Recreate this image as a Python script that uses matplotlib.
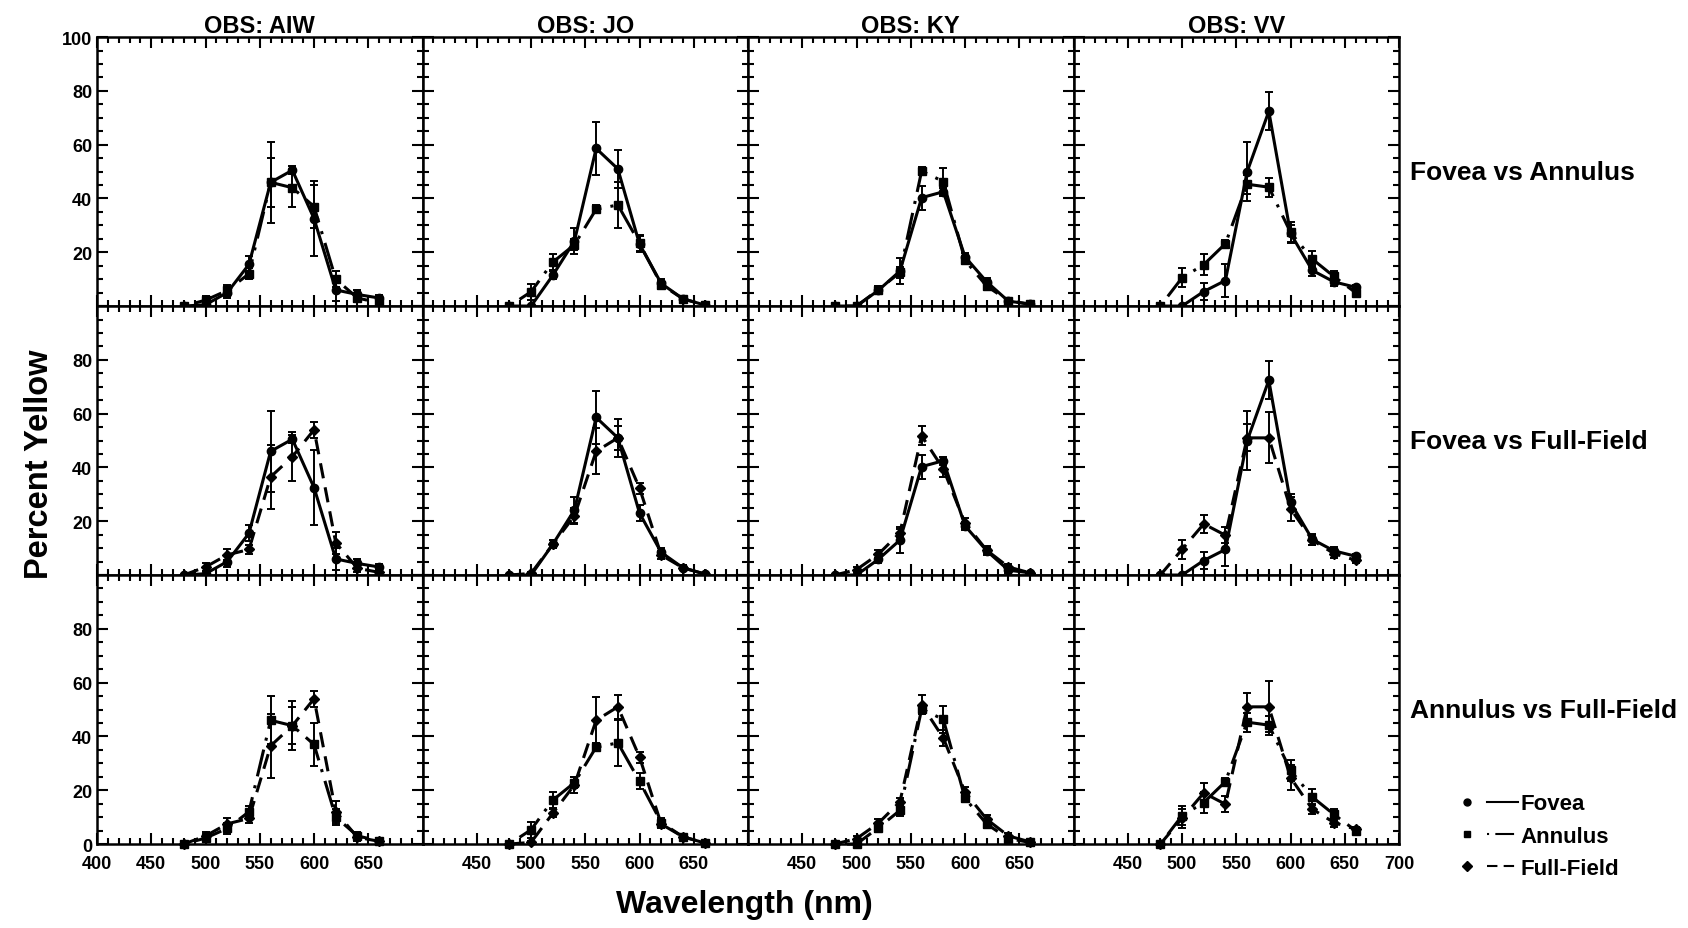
import numpy as np
import matplotlib
matplotlib.use("Agg")
import matplotlib.pyplot as plt
from matplotlib.lines import Line2D
from matplotlib.legend_handler import HandlerTuple

plt.rcParams['font.family'] = ['Liberation Sans', 'DejaVu Sans']
plt.rcParams['font.weight'] = 'bold'

# wavelengths (nm)
wl = [480, 500, 520, 540, 560, 580, 600, 620, 640, 660]

observers = ['AIW', 'JO', 'KY', 'VV']
row_names = ['Fovea vs Annulus', 'Fovea vs Full-Field', 'Annulus vs Full-Field']

# percent yellow
fovea_aiw = [0, 0.5, 5, 15.5, 46, 50.5, 32.5, 6, 4.3, 3]
fovea_aiw_err = [0, 1, 2, 3, 15, 1.5, 14, 4, 1.5, 1]
annulus_aiw = [0, 2.2, 5.8, 12, 46, 44, 37, 10, 3, 1.2]
annulus_aiw_err = [0, 1.5, 2, 2, 9, 7, 8, 3, 1.5, 1]
full_aiw = [0, 3, 7.5, 9.5, 36.5, 44, 54, 12, 2.5, 1]
full_aiw_err = [0, 1.5, 2, 1.5, 12, 9, 3, 4, 1.5, 1]

fovea_jo = [0, 0, 11.4, 24.2, 58.6, 51, 23, 8.4, 2.7, 0.4]
fovea_jo_err = [0, 0, 1.5, 5, 10, 7, 3, 1.5, 1, 0.5]
annulus_jo = [0, 5.3, 16.3, 22.8, 36, 37.6, 23.3, 8, 2.7, 0.4]
annulus_jo_err = [0, 3, 3, 2, 1.5, 8.5, 3, 1.5, 1, 0.5]
full_jo = [0, 0.6, 11.4, 22, 46, 51, 32.3, 7.4, 2.7, 0.4]
full_jo_err = [0, 0.5, 1.5, 3, 8.5, 4.5, 2, 1.5, 1, 0.5]

fovea_ky = [0, 0, 5.8, 13, 40.3, 42.5, 18.3, 9, 1.8, 0.8]
fovea_ky_err = [0, 0, 1.5, 4.8, 4.5, 1.5, 1.5, 1.5, 1, 0.5]
annulus_ky = [0, 0, 6, 12.5, 50.2, 46.3, 17, 7.4, 2, 0.6]
annulus_ky_err = [0, 0, 1.5, 2, 1.5, 5, 1.5, 1.5, 1, 0.5]
full_ky = [0, 2, 7.7, 15.7, 51.8, 39.4, 19.3, 9.2, 3, 0.8]
full_ky_err = [0, 1, 1.5, 1.5, 3.5, 3, 2, 1.5, 1, 0.5]

fovea_vv = [0, 0, 5.4, 9.5, 49.9, 72.4, 27, 13.3, 9, 7]
fovea_vv_err = [0, 0, 3, 6, 11, 7, 3, 2, 1.5, 1]
annulus_vv = [0, 10.5, 15.4, 23.2, 45.3, 44.2, 27.4, 17.5, 11, 5]
annulus_vv_err = [0, 3.5, 4, 1.5, 3.5, 3.5, 4, 3, 2, 1]
full_vv = [0, 9.5, 19, 14.8, 51, 51, 24.7, 13, 8, 5.5]
full_vv_err = [0, 3.5, 3.5, 3, 5, 9.5, 4.5, 2, 1.5, 1]

fovea = [(fovea_aiw, fovea_aiw_err), (fovea_jo, fovea_jo_err),
         (fovea_ky, fovea_ky_err), (fovea_vv, fovea_vv_err)]
annulus = [(annulus_aiw, annulus_aiw_err), (annulus_jo, annulus_jo_err),
           (annulus_ky, annulus_ky_err), (annulus_vv, annulus_vv_err)]
full = [(full_aiw, full_aiw_err), (full_jo, full_jo_err),
        (full_ky, full_ky_err), (full_vv, full_vv_err)]

# style per condition
sty_fovea = dict(marker='o', ls='-', ms=6)
sty_annulus = dict(marker='s', ls=(0, (1, 3, 9, 3)), ms=6)
sty_full = dict(marker='D', ls=(0, (5, 3)), ms=5)

pairs = [(fovea, sty_fovea, annulus, sty_annulus),
         (fovea, sty_fovea, full, sty_full),
         (annulus, sty_annulus, full, sty_full)]

fig, axes = plt.subplots(3, 4, figsize=(16.88, 9.29), dpi=100)
fig.subplots_adjust(left=0.0575, right=0.8288, top=0.959, bottom=0.0904, wspace=0, hspace=0)


def draw(ax, data, sty):
    m, e = data
    ax.errorbar(wl, m, yerr=e, color='black', lw=2.2, elinewidth=1.4,
                capsize=3, capthick=1.4, clip_on=False, dash_capstyle='butt',
                **sty)


for r in range(3):
    a, sa, b, sb = pairs[r]
    for c in range(4):
        ax = axes[r, c]
        draw(ax, b[c], sb)
        draw(ax, a[c], sa)
        ax.set_xlim(400, 700)
        ax.set_ylim(0, 100)
        ax.set_xticks(np.arange(400, 701, 50))
        ax.set_xticks(np.arange(400, 701, 10), minor=True)
        ax.set_yticks(np.arange(0, 101, 20))
        ax.set_yticks(np.arange(0, 101, 5), minor=True)
        ax.tick_params(which='both', direction='in', top=True, right=True, width=1.5,
                       labelsize=13)
        ax.tick_params(which='major', length=8)
        ax.tick_params(which='minor', length=4)
        ax.tick_params(axis='x', which='major', pad=8)
        for s in ax.spines.values():
            s.set_linewidth(1.8)
        if c == 0:
            ylabs = ['' if (v == 0 and r < 2) or (v == 100 and r > 0) else str(v)
                     for v in range(0, 101, 20)]
            ax.set_yticklabels(ylabs, fontweight='bold')
        else:
            ax.tick_params(labelleft=False)
        if r == 2:
            xlabs = []
            for v in range(400, 701, 50):
                if (v == 400 and c != 0) or (v == 700 and c != 3):
                    xlabs.append('')
                else:
                    xlabs.append(str(v))
            ax.set_xticklabels(xlabs, fontweight='bold')
        else:
            ax.tick_params(labelbottom=False)
        if r == 0:
            ax.set_title('OBS: ' + observers[c], fontsize=17, fontweight='bold', pad=4)
        if c == 3:
            ax.text(1.035, 0.5, row_names[r], transform=ax.transAxes, fontsize=19,
                    fontweight='bold', va='center', ha='left')

fig.supylabel('Percent Yellow', x=0.014, fontsize=23.5, fontweight='bold')
fig.supxlabel('Wavelength (nm)', y=0.01, x=0.441, fontsize=23, fontweight='bold')

# legend: marker then line sample
h = []
for sty in (sty_fovea, sty_annulus, sty_full):
    mk = Line2D([], [], marker=sty['marker'], ls='none', color='black', ms=5)
    ln = Line2D([], [], ls=sty['ls'], color='black', lw=1.5)
    h.append((mk, ln))
fig.legend(h, ['Fovea', 'Annulus', 'Full-Field'],
           handler_map={tuple: HandlerTuple(ndivide=None, pad=0.2)},
           loc='center left', bbox_to_anchor=(0.848, 0.099), frameon=False,
           handlelength=3.0, handletextpad=0.1, labelspacing=0.5,
           prop=dict(size=16, weight='bold'))

fig.savefig('out.png', dpi=100)
